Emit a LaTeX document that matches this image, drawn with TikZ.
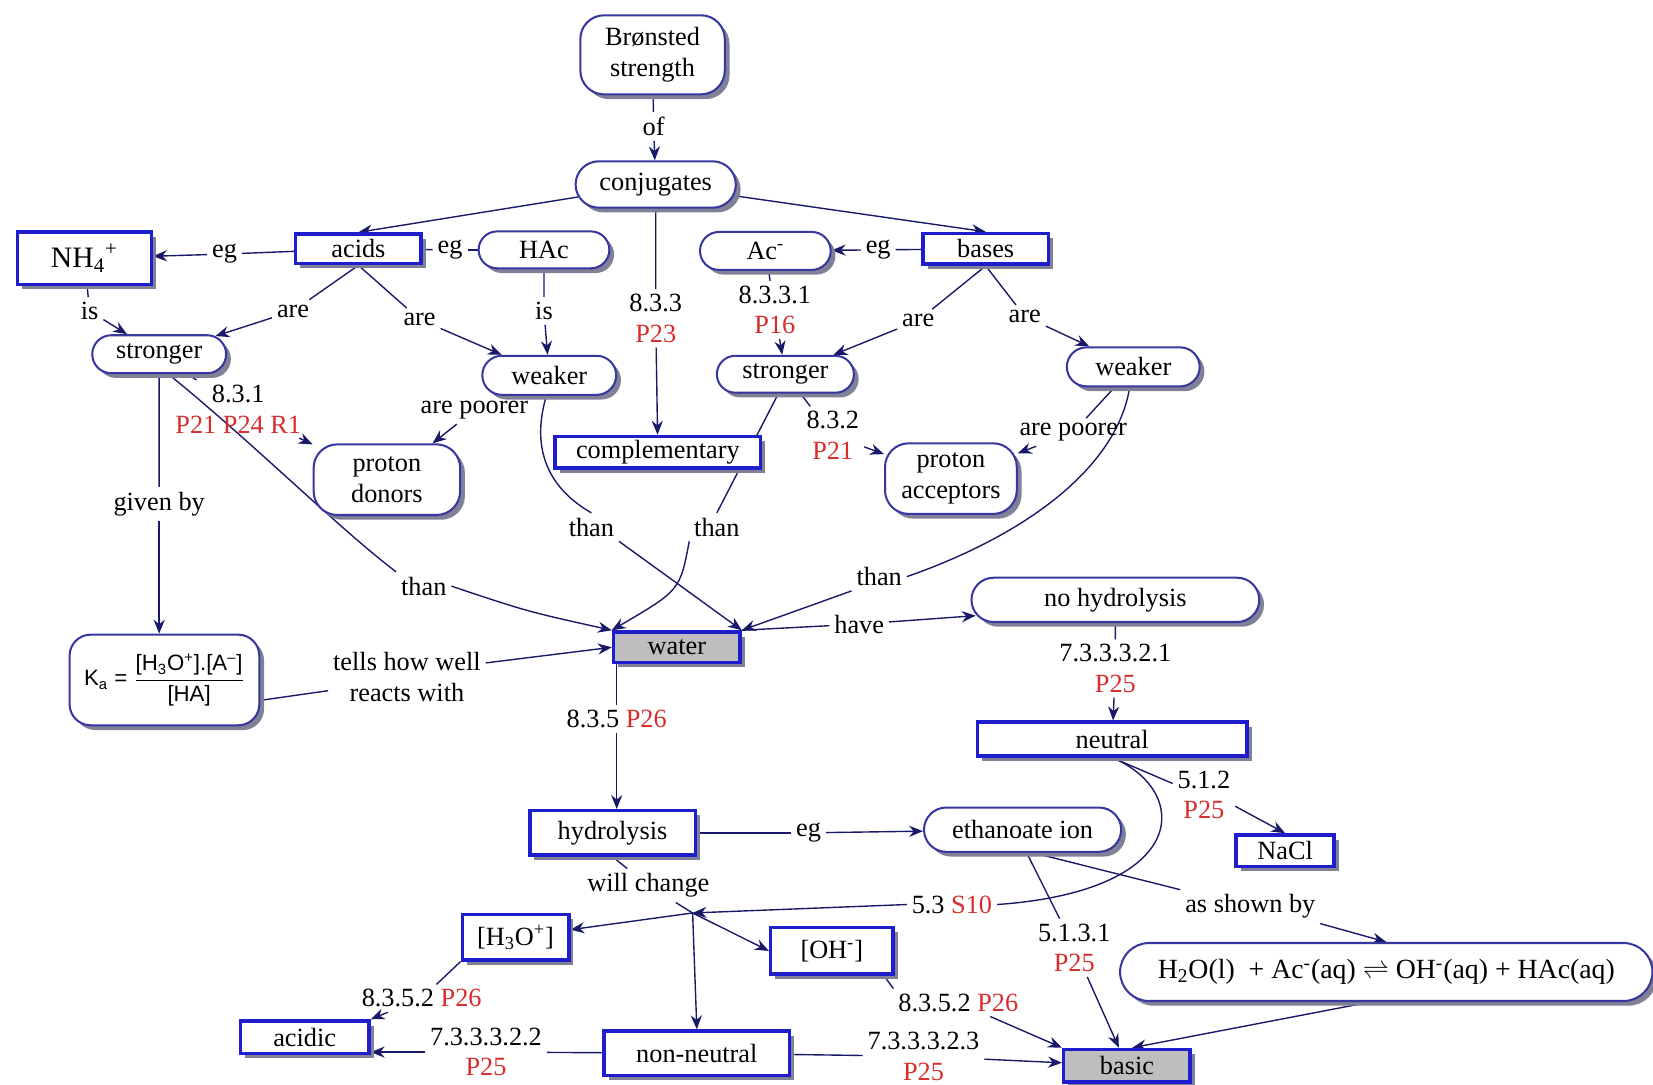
\documentclass[tikz,border=0pt]{standalone}
\usepackage{fontspec}
\setmainfont{Liberation Serif}
\newfontfamily\ksans{Liberation Sans}
\usetikzlibrary{shapes.misc,shadows,arrows.meta}
\pgfdeclarelayer{bg}
\pgfsetlayers{bg,main}
\definecolor{rectblue}{RGB}{30,30,205}
\definecolor{ovalblue}{RGB}{55,55,160}
\definecolor{linkc}{RGB}{25,25,105}
\definecolor{refred}{RGB}{215,45,45}
\definecolor{shadowc}{RGB}{128,128,150}
\definecolor{greyfill}{RGB}{190,190,192}
\newcommand\refr[1]{\textcolor{refred}{#1}}

\tikzset{
  cbase/.style={fill=white, inner sep=0pt, align=center,
    general shadow={fill=shadowc, shadow xshift=0.09cm, shadow yshift=-0.09cm}},
  cbox/.style={cbase, rectangle, draw=rectblue, line width=1.9pt},
  coval/.style={cbase, rounded rectangle, draw=ovalblue, line width=1.1pt},
  crbox/.style={cbase, rectangle, rounded corners=0.45cm, draw=ovalblue, line width=1.1pt},
  cwh/.style 2 args={minimum width=#1*0.02cm, minimum height=#2*0.02cm},
  lbl/.style={inner sep=2.5pt, align=center},
  link/.style={draw=linkc, line width=0.75pt},
  arr/.style={link, -{Stealth[length=7.5pt,width=6pt]}},
}

\begin{document}
\begin{tikzpicture}[x=0.02cm, y=-0.02cm, font=\fontsize{14.2}{16.5}\selectfont]
\useasboundingbox (0,0) rectangle (1568,1029);

% concepts
\node[crbox, cwh={137}{75}] (bron) at (619,52) {Brønsted\\strength};
\node[coval, cwh={152}{44}] (conj) at (622,175) {conjugates};
\node[cbox, cwh={119}{28}] (acids) at (340,236) {acids};
\node[cbox, cwh={127}{50}, font=\fontsize{16}{18}\selectfont] (nh4) at (80,245) {NH\textsubscript{4}\textsuperscript{+}};
\node[coval, cwh={124}{35}] (hac) at (516,237) {HAc};
\node[coval, cwh={124}{36}] (acm) at (726,238) {Ac\textsuperscript{-}};
\node[cbox, cwh={119}{29}] (bases) at (935,236) {bases};
\node[coval, cwh={127}{36}] (strL) at (151,336) {stronger};
\node[coval, cwh={127}{37}] (weakL) at (521,356) {weaker};
\node[coval, cwh={130}{35}] (strM) at (745,355) {stronger};
\node[coval, cwh={126}{37}] (weakR) at (1075,348) {weaker};
\node[crbox, cwh={139}{67}] (pdon) at (367,455) {proton\\donors};
\node[cbox, cwh={195}{30}] (comp) at (624,429) {complementary};
\node[crbox, cwh={125}{67}] (pacc) at (902,454) {proton\\acceptors};
\node[crbox, cwh={180}{86}, rounded corners=0.4cm, font=\ksans\fontsize{12}{14}\selectfont] (ka) at (156,645)
  {K\textsubscript{a} = $\displaystyle\frac{\hbox{[H\textsubscript{3}O\textsuperscript{+}].[A\textsuperscript{–}]}}{\hbox{[HA]}}$};
\node[cbox, cwh={120}{29}, fill=greyfill] (water) at (642,614) {water};
\node[coval, cwh={273}{42}] (nohyd) at (1058,569) {no hydrolysis};
\node[cbox, cwh={256}{32}] (neutral) at (1055,701) {neutral};
\node[cbox, cwh={157}{42}] (hydro) at (581,790) {hydrolysis};
\node[coval, cwh={187}{42}] (eth) at (970,787) {ethanoate ion};
\node[cbox, cwh={93}{30}] (nacl) at (1219,807) {NaCl};
\node[cbox, cwh={101}{43}] (h3o) at (489,889) {[H\textsubscript{3}O\textsuperscript{+}]};
\node[cbox, cwh={116}{44}] (oh) at (789,902) {[OH\textsuperscript{-}]};
\node[coval, cwh={505}{55}, font=\fontsize{15}{17}\selectfont] (eq) at (1315,922)
  {H\textsubscript{2}O(l) \ + Ac\textsuperscript{-}(aq) $\rightleftharpoons$ OH\textsuperscript{-}(aq) + HAc(aq)};
\node[cbox, cwh={122}{31}] (acidic) at (289,984) {acidic};
\node[cbox, cwh={176}{42}] (nonn) at (661,999) {non-neutral};
\node[cbox, cwh={120}{31}, fill=greyfill] (basic) at (1069,1011) {basic};

% linking phrases
\node[lbl] (lof) at (620,120) {of};
\node[lbl] (leg1) at (213,241) {eg};
\node[lbl] (leg2) at (427,237) {eg};
\node[lbl] (leg3) at (833,237) {eg};
\node[lbl] (lis1) at (85,295) {is};
\node[lbl] (lare1) at (278,295) {are};
\node[lbl] (lare2) at (398,303) {are};
\node[lbl] (lis2) at (516,295) {is};
\node[lbl] (l833) at (622,302) {8.3.3\\\refr{P23}};
\node[lbl] (l8331) at (735,294) {8.3.3.1\\\refr{P16}};
\node[lbl] (lare3) at (871,304) {are};
\node[lbl] (lare4) at (972,300) {are};
\node[lbl] (l831) at (226,388) {8.3.1\\\refr{P21 P24 R1}};
\node[lbl] (lpoor1) at (450,389) {are poorer};
\node[lbl] (l832) at (790,413) {8.3.2\\\refr{P21}};
\node[lbl] (lpoor2) at (1018,410) {are poorer};
\node[lbl] (lgiven) at (151,478) {given by};
\node[lbl] (lthan1) at (402,556) {than};
\node[lbl] (lthan2) at (561,500) {than};
\node[lbl] (lthan3) at (680,500) {than};
\node[lbl] (lthan4) at (834,547) {than};
\node[lbl] (lhave) at (815,592) {have};
\node[lbl] (ltells) at (386,642) {tells how well\\reacts with};
\node[lbl] (l7321) at (1058,634) {7.3.3.3.2.1\\\refr{P25}};
\node[lbl] (l835) at (585,682) {8.3.5 \refr{P26}};
\node[lbl] (l512) at (1142,754) {5.1.2\\\refr{P25}};
\node[lbl] (leg4) at (767,790) {eg};
\node[lbl] (lwc) at (615,840) {will change};
\node[lbl] (l53) at (903,858) {5.3 \refr{S10}};
\node[lbl] (lshown) at (1186,860) {as shown by};
\node[lbl] (l5131) at (1019,899) {5.1.3.1\\\refr{P25}};
\node[lbl] (l8352a) at (400,947) {8.3.5.2 \refr{P26}};
\node[lbl] (l8352b) at (909,951) {8.3.5.2 \refr{P26}};
\node[lbl] (l7322) at (461,998) {7.3.3.3.2.2\\\refr{P25}};
\node[lbl] (l7323) at (876,1002) {7.3.3.3.2.3\\\refr{P25}};
\coordinate (J) at (657,866);

% connectors
\begin{pgfonlayer}{bg}
\draw[link] (bron) -- (lof);
\draw[arr] (lof) -- (conj);
\draw[arr] (conj) -- (acids.north);
\draw[arr] (conj) -- (bases.north);
\draw[link] (conj) -- (l833);
\draw[arr] (l833) -- (comp);
\draw[link] (acids) -- (leg1);
\draw[arr] (leg1) -- (nh4);
\draw[link] (acids) -- (leg2);
\draw[link] (leg2) -- (hac);
\draw[link] (bases) -- (leg3);
\draw[arr] (leg3) -- (acm);
\draw[link] (nh4) -- (lis1);
\draw[arr] (lis1) -- (strL);
\draw[link] (acids.south) -- (lare1);
\draw[arr] (lare1) -- (strL);
\draw[link] (acids.south) -- (lare2);
\draw[arr] (lare2) -- (weakL);
\draw[link] (hac) -- (lis2);
\draw[arr] (lis2) -- (weakL);
\draw[link] (acm) -- (l8331);
\draw[arr] (l8331) -- (strM);
\draw[link] (bases.south) -- (lare3);
\draw[arr] (lare3) -- (strM);
\draw[link] (bases.south) -- (lare4);
\draw[arr] (lare4) -- (weakR);
\draw[link] (strL) -- (l831);
\draw[arr] (l831) -- (pdon);
\draw[link] (weakL) -- (lpoor1);
\draw[arr] (lpoor1) -- (pdon);
\draw[link] (strM) -- (l832);
\draw[arr] (l832) -- (pacc);
\draw[link] (weakR) -- (lpoor2);
\draw[arr] (lpoor2) -- (pacc);
\draw[link] (strL) -- (lgiven);
\draw[arr] (lgiven) -- (lgiven |- ka.north);
\draw[link] (strL.295) .. controls (240,420) and (320,500) .. (lthan1.north west);
\draw[arr] (lthan1.east) .. controls (500,580) .. (water.north west);
\draw[link] (weakL.262) .. controls (505,420) and (515,460) .. (lthan2.north);
\draw[arr] (lthan2.south east) -- (water.north east);
\draw[link] (strM.250) -- (lthan3.north);
\draw[arr] (lthan3.south west) .. controls (645,560) .. (water.north west);
\draw[link] (weakR.260) .. controls (1060,440) and (980,505) .. (lthan4.east);
\draw[arr] (lthan4.south west) -- (water.north east);
\draw[link] (water.north east) -- (lhave);
\draw[arr] (lhave) -- ([xshift=0.1cm,yshift=-0.3cm]nohyd.west);
\draw[link] (ka.-12) -- (ltells.190);
\draw[arr] (ltells.10) -- (water.west);
\draw[link] (l835.north |- water.south) -- (l835.north);
\draw[arr] (l835.south) -- (l835.south |- hydro.north);
\draw[link] (nohyd) -- (l7321);
\draw[arr] (l7321) -- (neutral);
\draw[link] (neutral.south) -- (l512.160);
\draw[arr] (l512.-20) -- (nacl.north);
\draw[link] (neutral.south) .. controls (1130,750) and (1130,845) .. (l53.east);
\draw[arr] (l53.west) -- (J);
\draw[link] (hydro) -- (leg4);
\draw[arr] (leg4) -- (eth);
\draw[link] (hydro.south) -- (lwc);
\draw[link] (lwc) -- (J);
\draw[arr] (J) -- (h3o);
\draw[arr] (J) -- (oh.west);
\draw[arr] (J) -- (nonn.north);
\draw[link] (eth.-80) -- (l5131);
\draw[arr] (l5131) -- (basic);
\draw[link] (eth.-65) -- (lshown.north west);
\draw[arr] (lshown.south east) -- (eq.north);
\draw[arr] ([xshift=-0.3cm]eq.south) -- ([xshift=0.1cm]basic.north);
\draw[link] (h3o.south west) -- (l8352a);
\draw[arr] (l8352a) -- (acidic.north east);
\draw[link] ([xshift=-0.2cm]oh.south east) -- (l8352b.north west);
\draw[arr] (l8352b) -- (basic.north west);
\draw[link] (nonn) -- (l7322);
\draw[arr] (l7322) -- (acidic.east |- l7322);
\draw[link] (nonn) -- (l7323);
\draw[arr] (l7323) -- (basic);
\end{pgfonlayer}
\end{tikzpicture}
\end{document}
